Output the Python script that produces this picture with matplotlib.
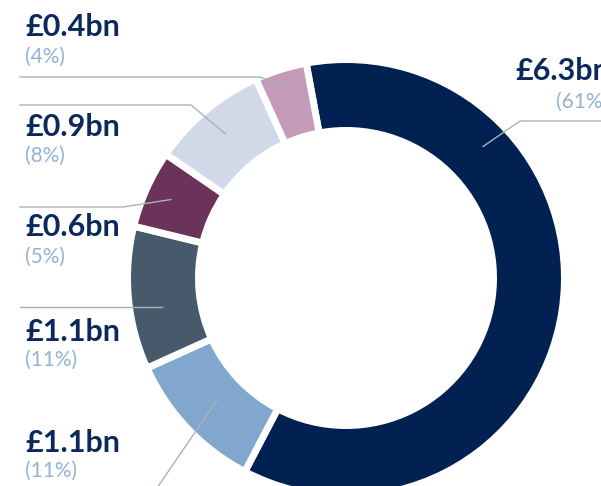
"""
plot.py

Donut chart of spend split (in £bn) with left-hand labels and leader lines.
"""
import numpy as np
import matplotlib.pyplot as plt

# data, clockwise from the top
values = [6.3, 1.1, 1.1, 0.6, 0.9, 0.4]
value_labels = ['£6.3bn', '£1.1bn', '£1.1bn', '£0.6bn', '£0.9bn', '£0.4bn']
pct_labels = ['(61%)', '(11%)', '(11%)', '(5%)', '(8%)', '(4%)']
colours = ['#002152', '#82A7CF', '#465A6B', '#6B3359', '#D1D9E8', '#C39AB8']

W, H = 601, 486
NAVY_TEXT = '#0B2A5B'
PCT_TEXT = '#93B3D6'
LINE = '#A7B2BE'

# ring geometry in pixels (y measured down from the top)
cx, cy = 346, 278
r_out, r_in = 215, 151
gap = 5  # points of white between wedges

# label layout: (x, bold baseline, pct x, pct baseline)
label_pos = [(515, 80, 556, 108), (25, 452, 25, 477), (25, 341, 25, 366),
             (25, 236, 25, 263), (25, 136, 25, 162), (25, 36, 25, 63)]
# leader: fraction along wedge, radius of anchor, elbow x, line y, line start x
leader = [(0.26, 190, 520, 121, W), (0.5, 177, None, None, None),
          (0.32, 188, None, 307, 20), (0.5, 192, 123, 207, 20),
          (0.5, 188, 191, 105, 20), (0.5, 200, 260, 77, 20)]

fig = plt.figure(figsize=(W / 100, H / 100), dpi=100)
ax = fig.add_axes([0, 0, 1, 1])

def py(y):
    return H - y

pad = gap * 100 / 72 / 2
wedges, _ = ax.pie(values, colors=colours, startangle=100.5, counterclock=False,
                   radius=r_out + pad, center=(cx, py(cy)),
                   wedgeprops=dict(width=r_out - r_in + 2 * pad,
                                   edgecolor='white', linewidth=gap))

for w, (frac, rad, ex, ly, lx) in zip(wedges, leader):
    # wedge theta1/theta2 are counterclockwise degrees; go clockwise from theta2
    ang = np.radians(w.theta2 - frac * (w.theta2 - w.theta1))
    axp = cx + rad * np.cos(ang)
    ayp = py(cy) + rad * np.sin(ang)
    if lx is None:
        # straight line down-left off the bottom edge
        ax.plot([axp, 157], [ayp, py(486) - 2], color=LINE, lw=1.0, zorder=3)
    elif ex is None:
        # plain horizontal leader
        ax.plot([lx, axp], [py(ly), py(ly)], color=LINE, lw=1.0, zorder=3)
    else:
        ax.plot([lx, ex, axp], [py(ly), py(ly), ayp], color=LINE, lw=1.0,
                solid_joinstyle='round', zorder=3)

for txt, pct, (x, yb, xp, yp) in zip(value_labels, pct_labels, label_pos):
    ax.text(x, py(yb), txt, fontsize=22, fontweight='bold', family='Lato',
            color=NAVY_TEXT, va='baseline', ha='left')
    ax.text(xp, py(yp), pct, fontsize=15, fontweight='normal', family='Lato',
            color=PCT_TEXT, va='baseline', ha='left')

ax.set_xlim(0, W)
ax.set_ylim(0, H)
ax.set_aspect('equal')
ax.axis('off')

fig.savefig('out.png', dpi=100)
